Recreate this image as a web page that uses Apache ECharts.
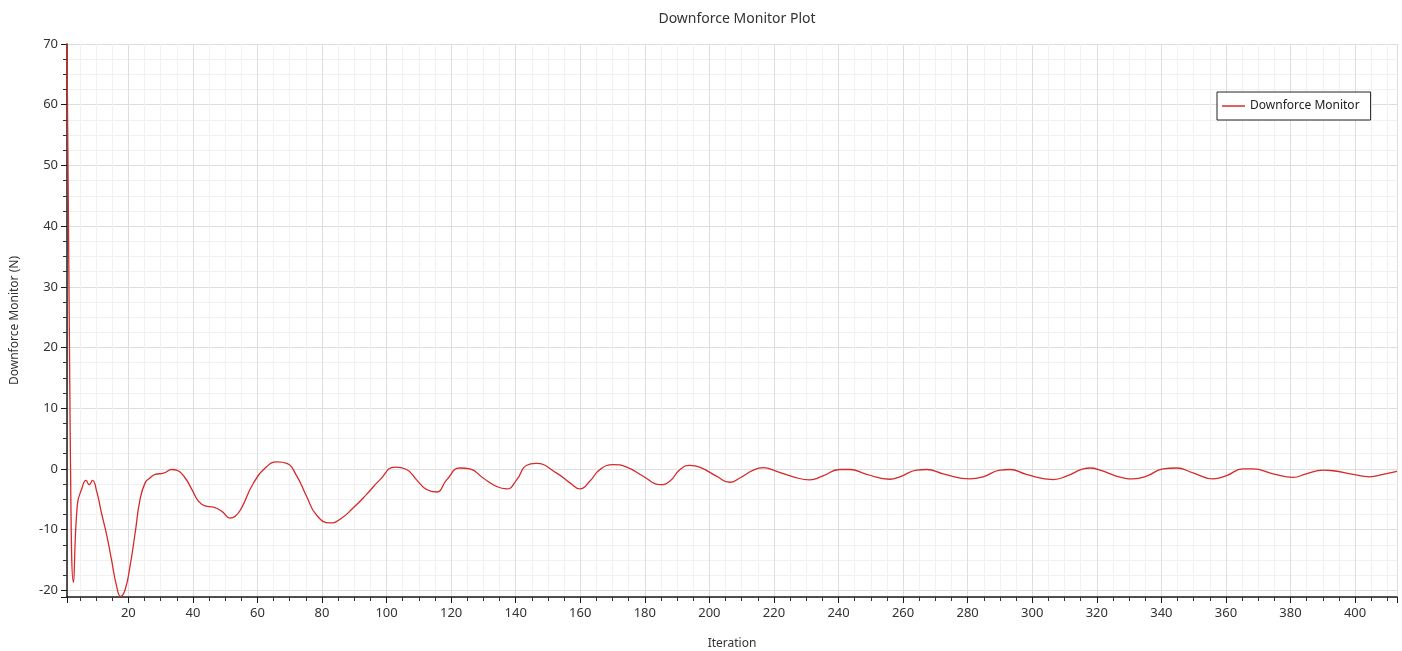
<!DOCTYPE html>
<html>
<head>
<meta charset="utf-8">
<script src="https://cdn.jsdelivr.net/npm/echarts@6/dist/echarts.min.js"></script>
<style>
  html, body { margin: 0; padding: 0; background: #fff; }
  #chart { width: 1402px; height: 651px; }
</style>
</head>
<body>
<div id="chart"></div>
<script>
const chartTitle = 'Downforce Monitor Plot';
const seriesName = 'Downforce Monitor';
const xAxisName = 'Iteration';
const yAxisName = 'Downforce Monitor (N)';

const iterations = [1,2,3,4.2,5.5,6.9,7.9,8.9,10.2,11.7,13.3,14.8,16.4,17.6,19,20.5,22.1,23.6,25.2,26.7,28.3,30.9,33.5,35,37.6,39.7,41.7,43.8,46.4,49,51.5,53.1,55,58.7,62.9,66,69.1,72.2,75.2,78.3,82.5,85.6,89.7,93.8,97.9,102.6,106.2,109.3,112.4,115.5,118.6,122.7,125.8,129.9,134.1,137.2,140.3,143.4,146.3,152.7,156.8,159.9,163,166.1,170.2,174.4,179.5,184.7,187.8,190.9,194,197,202.2,206.3,209.4,213.6,216.7,220.8,226,231.1,235,240.4,243.5,248.7,255.9,259,264.2,267.3,272.4,280.7,284.8,290,293.1,298.2,306.5,310.6,315.8,318,321.5,325,327.5,331.2,335.4,340.5,344.7,349.8,356,360.2,365.3,368.4,374.6,380.8,384.9,390.1,393.2,399.4,404.5,408.7,413];

const downforce = [70,5,-18.7,-5.9,-3.4,-1.9,-2.6,-1.9,-3.7,-7.3,-10.9,-15,-19.4,-21,-19.9,-16.1,-10.6,-5.1,-2.3,-1.5,-0.9,-0.7,-0.1,-0.2,-1.5,-3.4,-5.3,-6.1,-6.3,-7.0,-8.1,-7.8,-6.5,-2.4,0.4,1.15,0.9,-1.2,-4.5,-7.6,-8.9,-8.3,-6.4,-4.2,-1.8,0.3,-0.1,-1.8,-3.4,-3.8,-1.8,0.15,0,-1.5,-2.9,-3.3,-1.8,0.6,0.9,-0.7,-2.3,-3.3,-2.0,-0.1,0.7,0.3,-1.2,-2.6,-2.0,-0.1,0.6,0.3,-1.2,-2.2,-1.5,-0.2,0.2,-0.4,-1.3,-1.8,-1.2,-0.1,-0.1,-0.9,-1.7,-1.3,-0.2,-0.1,-0.8,-1.65,-1.3,-0.2,-0.1,-0.9,-1.75,-1.2,0,0.15,-0.3,-1.0,-1.4,-1.65,-1.2,0,0.15,-0.65,-1.65,-1.1,0,0,-0.8,-1.4,-0.8,-0.2,-0.3,-0.9,-1.3,-0.9,-0.4];

const xRange = [1, 413];
const yRange = [-21.1, 70];

const pairs = iterations.map((x, i) => [x, downforce[i]]);

const fontFamily = '"Noto Sans", "Open Sans", sans-serif';
const lineColor = '#d62a2a';

const chart = echarts.init(document.getElementById('chart'), null, { renderer: 'canvas' });
chart.setOption({
  backgroundColor: '#ffffff',
  animation: false,
  title: {
    text: chartTitle,
    left: 732,
    textAlign: 'center',
    top: 7,
    textStyle: { fontFamily, fontSize: 14, fontWeight: 'normal', color: '#333' }
  },
  legend: {
    data: [seriesName],
    left: 1217,
    top: 92,
    orient: 'horizontal',
    icon: 'rect',
    itemWidth: 23,
    itemHeight: 1.5,
    padding: [8, 11, 8, 5],
    borderColor: '#222',
    borderWidth: 1,
    backgroundColor: '#fff',
    textStyle: { fontFamily, fontSize: 12, color: '#222' },
    selectedMode: false
  },
  grid: { left: 67, right: 5, top: 44, bottom: 54, containLabel: false, outerBoundsMode: 'none' },
  xAxis: {
    type: 'value',
    min: xRange[0],
    max: xRange[1],
    minInterval: 20,
    maxInterval: 20,
    name: xAxisName,
    nameLocation: 'middle',
    nameGap: 41,
    nameTextStyle: { fontFamily, fontSize: 12, color: '#333' },
    axisLine: { show: true, onZero: false, lineStyle: { color: '#1a1a1a', width: 1.5 } },
    axisTick: { show: true, inside: false, length: 6, lineStyle: { color: '#1a1a1a' } },
    minorTick: { show: true, splitNumber: 4, length: 4, lineStyle: { color: '#333' } },
    axisLabel: { fontFamily, fontSize: 13, color: '#333', margin: 10, showMinLabel: false, showMaxLabel: false },
    splitLine: { show: true, lineStyle: { color: '#dedede', width: 1 } },
    minorSplitLine: { show: true, lineStyle: { color: '#f1f1f1', width: 1 } }
  },
  yAxis: {
    type: 'value',
    min: yRange[0],
    max: yRange[1],
    minInterval: 10,
    maxInterval: 10,
    name: yAxisName,
    nameLocation: 'middle',
    nameGap: 46,
    nameTextStyle: { fontFamily, fontSize: 12, color: '#333' },
    axisLine: { show: true, onZero: false, lineStyle: { color: '#1a1a1a', width: 1.5 } },
    axisTick: { show: true, inside: false, length: 6, lineStyle: { color: '#1a1a1a' } },
    minorTick: { show: true, splitNumber: 4, length: 4, lineStyle: { color: '#333' } },
    axisLabel: { fontFamily, fontSize: 13, color: '#333', margin: 9, showMinLabel: false, showMaxLabel: true },
    splitLine: { show: true, lineStyle: { color: '#dedede', width: 1 } },
    minorSplitLine: { show: true, lineStyle: { color: '#f1f1f1', width: 1 } }
  },
  series: [{
    name: seriesName,
    type: 'line',
    data: pairs,
    showSymbol: false,
    symbol: 'none',
    smooth: 0.5,
    clip: true,
    lineStyle: { color: lineColor, width: 1.3 },
    itemStyle: { color: lineColor }
  }]
});
</script>
</body>
</html>
